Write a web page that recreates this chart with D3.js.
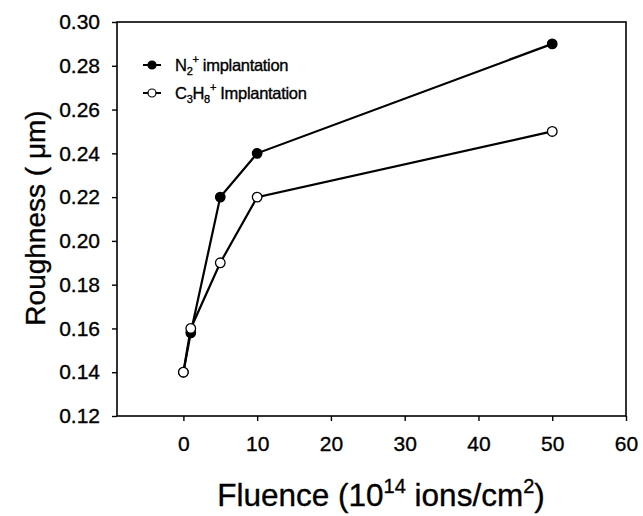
<!DOCTYPE html>
<html><head><meta charset="utf-8">
<script src="https://cdn.jsdelivr.net/npm/d3@7"></script>
<style>body{margin:0;background:#fff}text{font-family:"Liberation Sans",Arial,sans-serif;fill:#000;stroke:#000;stroke-width:0.35px}</style>
</head><body><svg id="c" width="643" height="516"></svg>
<script>
const fluence = [0, 1, 5, 10, 50];
const n2Roughness = [0.14, 0.158, 0.22, 0.24, 0.29];
const c3h8Roughness = [0.14, 0.16, 0.19, 0.22, 0.25];
const xTicks = [0, 10, 20, 30, 40, 50, 60];
const yTicks = [0.12, 0.14, 0.16, 0.18, 0.20, 0.22, 0.24, 0.26, 0.28, 0.30];

const svg = d3.select("#c");
const L = 117, R = 626, T = 22, B = 416;
const x = d3.scaleLinear().domain([-9, 60]).range([L, R]);
const y = d3.scaleLinear().domain([0.12, 0.30]).range([B, T]);

svg.append("rect").attr("x", L).attr("y", T).attr("width", R - L).attr("height", B - T)
  .attr("fill", "none").attr("stroke", "#000").attr("stroke-width", 1.6);

const xa = svg.append("g").attr("transform", `translate(0,${B})`)
  .call(d3.axisBottom(x).tickValues(xTicks).tickSize(5).tickPadding(15).tickFormat(d3.format("d")));
const ya = svg.append("g").attr("transform", `translate(${L},0)`)
  .call(d3.axisLeft(y).tickValues(yTicks).tickSize(5).tickPadding(12).tickFormat(d3.format(".2f")));
[xa, ya].forEach(a => {
  a.select(".domain").remove();
  a.selectAll("line").attr("stroke", "#000").attr("stroke-width", 1.4);
  a.selectAll("text").style("font-size", "21px").style("font-family", "Liberation Sans, Arial, sans-serif")
    .attr("fill", "#000").attr("stroke", "#000").attr("stroke-width", 0.4);
});

const line = d3.line().x(d => x(d[0])).y(d => y(d[1]));
const s1 = fluence.map((f, i) => [f, n2Roughness[i]]);
const s2 = fluence.map((f, i) => [f, c3h8Roughness[i]]);
svg.append("path").datum(s1).attr("d", line).attr("fill", "none").attr("stroke", "#000").attr("stroke-width", 2.2);
svg.append("path").datum(s2).attr("d", line).attr("fill", "none").attr("stroke", "#000").attr("stroke-width", 2.2);
svg.selectAll(".p1").data(s1).enter().append("circle").attr("cx", d => x(d[0])).attr("cy", d => y(d[1]))
  .attr("r", 4.8).attr("fill", "#000").attr("stroke", "#000").attr("stroke-width", 1.2);
svg.selectAll(".p2").data(s2).enter().append("circle").attr("cx", d => x(d[0])).attr("cy", d => y(d[1]))
  .attr("r", 4.8).attr("fill", "#fff").attr("stroke", "#000").attr("stroke-width", 1.3);

// legend
const lg = svg.append("g");
[[65, "#000"], [93, "#fff"]].forEach(([ly, fill]) => {
  lg.append("line").attr("x1", 143).attr("x2", 161).attr("y1", ly).attr("y2", ly).attr("stroke", "#000").attr("stroke-width", 2);
  lg.append("circle").attr("cx", 152).attr("cy", ly).attr("r", 4).attr("fill", fill).attr("stroke", "#000").attr("stroke-width", 1.2);
});
const t1 = lg.append("text").attr("x", 175).attr("y", 71).style("font-size", "16.5px").style("letter-spacing", "-0.3px");
t1.append("tspan").text("N");
t1.append("tspan").attr("dy", 4).style("font-size", "11px").text("2");
t1.append("tspan").attr("dy", -12).style("font-size", "11px").text("+");
t1.append("tspan").attr("dy", 8).text(" implantation");
const t2 = lg.append("text").attr("x", 175).attr("y", 99).style("font-size", "16.5px").style("letter-spacing", "-0.3px");
t2.append("tspan").text("C");
t2.append("tspan").attr("dy", 4).style("font-size", "11px").text("3");
t2.append("tspan").attr("dy", -4).text("H");
t2.append("tspan").attr("dy", 4).style("font-size", "11px").text("8");
t2.append("tspan").attr("dy", -12).style("font-size", "11px").text("+");
t2.append("tspan").attr("dy", 8).text(" Implantation");

// axis titles
const xt = svg.append("text").attr("x", 381).attr("y", 506).attr("text-anchor", "middle").style("font-size", "31.5px");
xt.append("tspan").text("Fluence (10");
xt.append("tspan").attr("dy", -13).style("font-size", "20px").text("14");
xt.append("tspan").attr("dy", 13).text(" ions/cm");
xt.append("tspan").attr("dy", -13).style("font-size", "20px").text("2");
xt.append("tspan").attr("dy", 13).text(")");

svg.append("text").attr("transform", "translate(45,218) rotate(-90)").attr("text-anchor", "middle")
  .style("font-size", "28px").text("Roughness (  μm)");
</script></body></html>
